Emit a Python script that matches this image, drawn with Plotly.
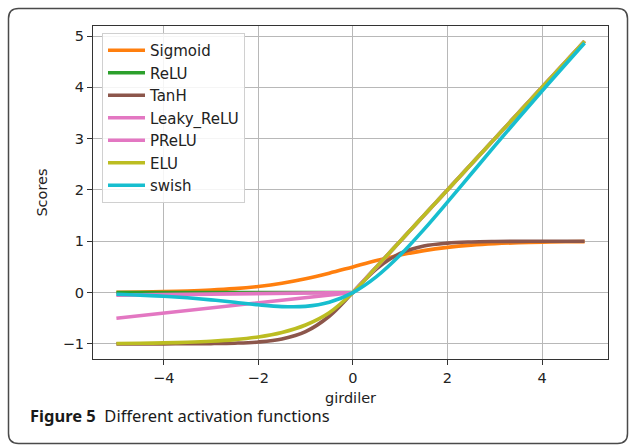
import plotly.graph_objects as go

# ---- data ----
x_curve = [-5, -4.5, -4, -3.5, -3, -2.5, -2, -1.5, -1, -0.5, 0,
           0.5, 1, 1.5, 2, 2.5, 3, 3.5, 4, 4.5, 4.9]
sigmoid = [0.0067, 0.0110, 0.0180, 0.0293, 0.0474, 0.0759, 0.1192, 0.1824, 0.2689, 0.3775, 0.5,
           0.6225, 0.7311, 0.8176, 0.8808, 0.9241, 0.9526, 0.9707, 0.9820, 0.9890, 0.9926]
tanh = [-0.9999, -0.9998, -0.9993, -0.9982, -0.9951, -0.9866, -0.9640, -0.9051, -0.7616, -0.4621, 0,
        0.4621, 0.7616, 0.9051, 0.9640, 0.9866, 0.9951, 0.9982, 0.9993, 0.9998, 0.9999]
elu = [-0.9933, -0.9889, -0.9817, -0.9698, -0.9502, -0.9179, -0.8647, -0.7769, -0.6321, -0.3935, 0,
       0.5, 1, 1.5, 2, 2.5, 3, 3.5, 4, 4.5, 4.9]
swish = [-0.0335, -0.0497, -0.0719, -0.1025, -0.1423, -0.1897, -0.2384, -0.2736, -0.2689, -0.1888, 0,
         0.3112, 0.7311, 1.2264, 1.7616, 2.3103, 2.8577, 3.3975, 3.9281, 4.4503, 4.8635]

x_piece = [-5, 0, 4.9]
relu = [0, 0, 4.9]
leaky_relu = [-0.05, 0, 4.9]
prelu = [-0.5, 0, 4.9]

x_ticks = [-4, -2, 0, 2, 4]
y_ticks = [-1, 0, 1, 2, 3, 4, 5]

series = [
    ("Sigmoid", x_curve, sigmoid, "#ff7f0e", "spline"),
    ("ReLU", x_piece, relu, "#2ca02c", "linear"),
    ("TanH", x_curve, tanh, "#8c564b", "spline"),
    ("Leaky_ReLU", x_piece, leaky_relu, "#e377c2", "linear"),
    ("PReLU", x_piece, prelu, "#e377c2", "linear"),
    ("ELU", x_curve, elu, "#bcbd22", "spline"),
    ("swish", x_curve, swish, "#17becf", "spline"),
]

fig = go.Figure()
for name, xs, ys, col, shape in series:
    fig.add_trace(go.Scatter(x=xs, y=ys, name=name, mode="lines",
                             line=dict(color=col, width=3.6, shape=shape)))

W, H = 629, 446
L, R, T, B = 93, 608, 26, 359


def px(xs):
    return (xs - L) / (R - L)


def py(ys):
    return (B - ys) / (B - T)


# rounded outer frame (pixel coordinates)
x0, x1, y0, y1, r = 8.5, 627.5, 8.5, 443.5, 10
path = (f"M{px(x0 + r)},{py(y0)} L{px(x1 - r)},{py(y0)} "
        f"Q{px(x1)},{py(y0)} {px(x1)},{py(y0 + r)} "
        f"L{px(x1)},{py(y1 - r)} Q{px(x1)},{py(y1)} {px(x1 - r)},{py(y1)} "
        f"L{px(x0 + r)},{py(y1)} Q{px(x0)},{py(y1)} {px(x0)},{py(y1 - r)} "
        f"L{px(x0)},{py(y0 + r)} Q{px(x0)},{py(y0)} {px(x0 + r)},{py(y0)} Z")
fig.add_shape(type="path", xref="paper", yref="paper", path=path,
              line=dict(color="#4a4a4a", width=1.5), layer="above")

fig.add_annotation(xref="paper", yref="paper", x=px(28), y=py(415),
                   xanchor="left", yanchor="middle", showarrow=False,
                   text="<b>Figure 5</b>\u00a0\u00a0Different activation functions",
                   font=dict(family="Noto Sans", size=16.5, color="#1a1a1a"))

axis_common = dict(showgrid=True, gridcolor="#b8b8b8", gridwidth=1,
                   showline=True, linecolor="#333333", linewidth=1.2, mirror=True,
                   ticks="outside", ticklen=5, tickcolor="#333333", zeroline=False,
                   tickfont=dict(family="DejaVu Sans", size=14.5, color="#222"))

fig.update_layout(
    width=W, height=H,
    margin=dict(l=L, r=W - R, t=T, b=H - B),
    paper_bgcolor="white", plot_bgcolor="white",
    font=dict(family="DejaVu Sans", size=14, color="#222"),
    xaxis=dict(range=[-5.495, 5.395], tickvals=x_ticks,
               title=dict(text="girdiler", standoff=8,
                          font=dict(family="DejaVu Sans", size=14.5)),
               **axis_common),
    yaxis=dict(range=[-1.295, 5.195], tickvals=y_ticks,
               title=dict(text="Scores", standoff=11,
                          font=dict(family="DejaVu Sans", size=14.5)),
               **axis_common),
    legend=dict(x=px(102), y=py(33), xanchor="left", yanchor="top",
                itemwidth=37,
                bgcolor="rgba(255,255,255,0.85)", bordercolor="#d0d0d0", borderwidth=1,
                font=dict(family="DejaVu Sans", size=15, color="#222")),
    showlegend=True,
)

# remove the default 8px body margin so the figure fills the 629x446 window exactly
fig.write_html("out.html",
               config={"displayModeBar": False},
               post_script="document.body.style.margin='0';"
                           "document.body.style.overflow='hidden';")
